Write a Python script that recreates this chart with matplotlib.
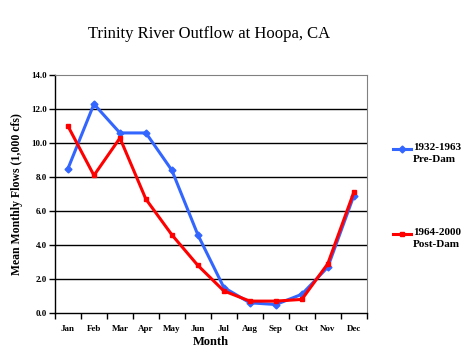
import numpy as np
import matplotlib.pyplot as plt
from matplotlib.lines import Line2D

months = ['Jan', 'Feb', 'Mar', 'Apr', 'May', 'Jun', 'Jul', 'Aug', 'Sep', 'Oct', 'Nov', 'Dec']
pre_dam = [8.5, 12.3, 10.6, 10.6, 8.4, 4.6, 1.5, 0.6, 0.5, 1.1, 2.7, 6.9]
post_dam = [11.0, 8.1, 10.3, 6.7, 4.6, 2.8, 1.3, 0.7, 0.7, 0.8, 2.9, 7.1]
pre_label = '1932-1963\nPre-Dam'
post_label = '1964-2000\nPost-Dam'

plt.rcParams['font.family'] = ['Liberation Serif', 'DejaVu Serif']

fig = plt.figure(figsize=(4.76, 3.56), dpi=100)
ax = fig.add_axes([0.1155, 0.1208, 0.655, 0.668])

blue = '#3366FF'
red = '#FF0000'
x = np.arange(len(months))
ax.plot(x, pre_dam, color=blue, lw=2.2, marker='D', ms=3.5, zorder=3)
ax.plot(x, post_dam, color=red, lw=2.2, marker='s', ms=3, zorder=4)

ax.set_xlim(-0.5, 11.5)
ax.set_ylim(0, 14)
ax.set_yticks(np.arange(0, 15, 2))
ax.set_yticklabels([f'{v:.1f}' for v in np.arange(0, 15, 2)], fontsize=6.5, fontweight='bold')
ax.set_xticks(x)
ax.set_xticklabels(months, fontsize=6.5, fontweight='bold')
ax.set_xticks(np.arange(-0.5, 12, 1), minor=True)
ax.tick_params(axis='x', which='major', length=0, pad=9)
ax.tick_params(axis='x', which='minor', length=4, width=1, direction='out')
ax.tick_params(axis='y', length=4, width=1, direction='out', pad=2)
for v in range(2, 14, 2):
    ax.axhline(v, color='black', lw=1, zorder=1)
ax.spines['top'].set_color('#808080')
ax.spines['right'].set_color('#808080')
ax.spines['left'].set_linewidth(1)
ax.spines['bottom'].set_linewidth(1)

ax.set_xlabel('Month', fontsize=9, fontweight='bold', labelpad=2)
ax.set_ylabel('Mean Monthly Flows (1,000 cfs)', fontsize=8.5, fontweight='bold', labelpad=6)
fig.text(0.44, 0.905, 'Trinity River Outflow at Hoopa, CA', ha='center', va='center', fontsize=12)

# legend entries, handle beside the first line of text
W, H = 476, 356
for color, marker, ms, label, y in [(blue, 'D', 3.5, pre_label, 149), (red, 's', 3, post_label, 234)]:
    fig.add_artist(Line2D([393 / W, 411 / W], [1 - y / H, 1 - y / H], color=color, lw=2.2))
    fig.add_artist(Line2D([402 / W], [1 - y / H], color=color, marker=marker, ms=ms))
    fig.text(413 / W, 1 - (y - 6) / H, label, ha='left', va='top', fontsize=8, fontweight='bold',
             linespacing=1.45)

fig.savefig('out.png', dpi=100)
